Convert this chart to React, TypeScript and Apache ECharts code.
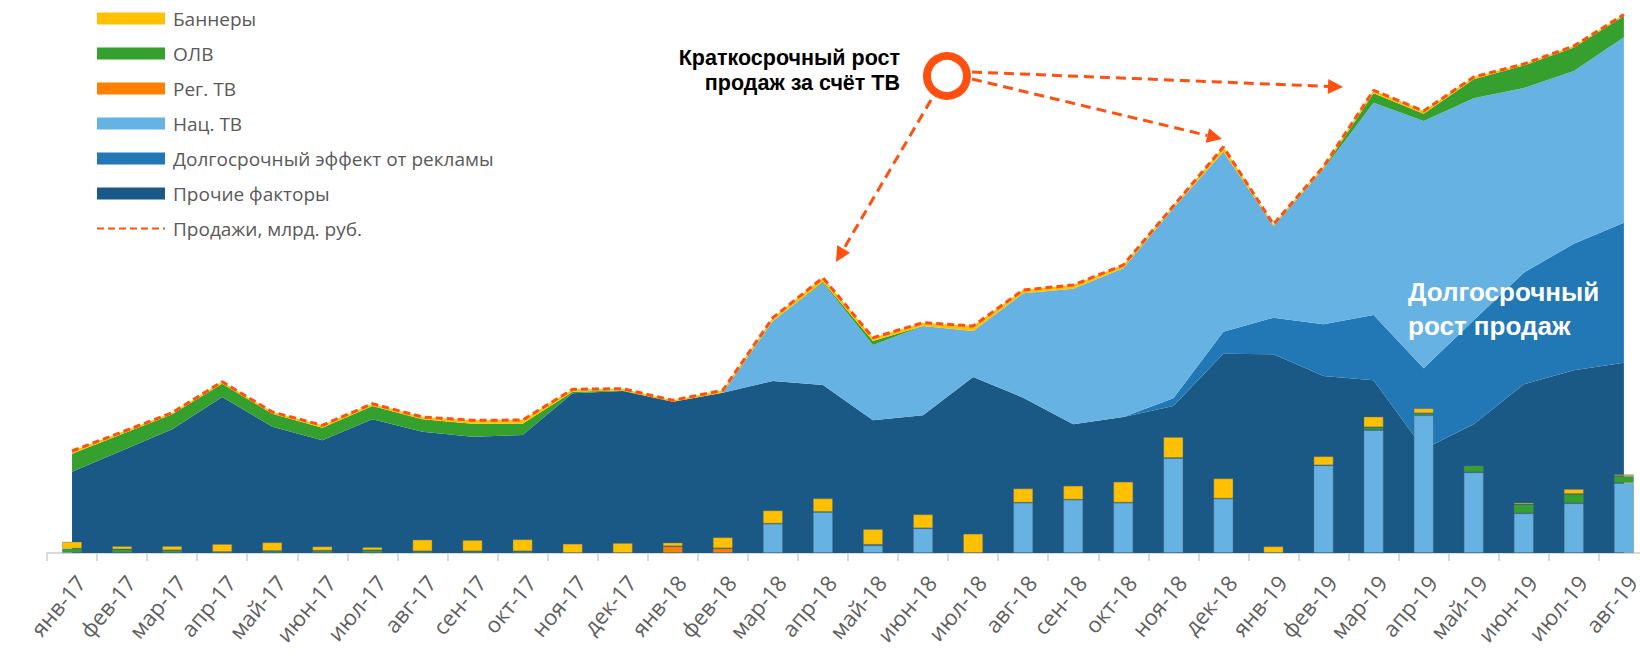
import React, { useEffect, useRef } from "react";
import * as echarts from "echarts";

const categories = [
  "янв-17", "фев-17", "мар-17", "апр-17", "май-17", "июн-17", "июл-17", "авг-17",
  "сен-17", "окт-17", "ноя-17", "дек-17", "янв-18", "фев-18", "мар-18", "апр-18",
  "май-18", "июн-18", "июл-18", "авг-18", "сен-18", "окт-18", "ноя-18", "дек-18",
  "янв-19", "фев-19", "мар-19", "апр-19", "май-19", "июн-19", "июл-19", "авг-19",
];

// stacked area components
const otherFactors = [81.3, 102.4, 123.7, 156, 126.3, 112.7, 133.7, 121.3, 116.3, 118, 159.7, 162, 151.3, 160.3, 172, 168, 132.7, 137.7, 176, 155.3, 128.7, 136, 147, 199.3, 198.7, 177, 172.7, 104, 128.7, 168.7, 182.7, 190.3];
const longTermEffect = [0, 0, 0, 0, 0, 0, 0, 0, 0, 0, 0, 0, 0, 0, 0, 0, 0, 0, 0, 0, 0, 0, 7.7, 22, 36.6, 51.7, 65.3, 80.7, 104, 111.6, 126.6, 140];
const natTvArea = [0, 0, 0, 0, 0, 0, 0, 0, 0, 0, 0, 0, 0, 0, 60, 102.3, 75.3, 89.3, 46, 104.4, 135.6, 148.7, 190, 180, 91.7, 155, 212.3, 247.3, 222, 184.7, 172.7, 185.4];
const regTvArea = [0, 0, 0, 0, 0, 0, 0, 0, 0, 0, 0, 0, 0, 0, 0, 0, 0, 0, 0, 0, 0, 0, 0, 0, 0, 0, 0, 0, 0, 0, 0, 0];
const olvArea = [18, 16.6, 15, 13.3, 13, 12.6, 13.3, 12.4, 13, 11.3, 1.6, 0.5, 0, 0, 0, 1, 4, 0, 0, 0, 0, 0, 0, 0, 0, 0.5, 9.4, 7.3, 19, 22.5, 23.5, 21.3];
const bannersArea = [2.7, 2, 1.6, 2, 1.7, 2.4, 2.3, 2.3, 3.4, 3.7, 2.4, 1.8, 1.4, 2.4, 3.3, 4, 3.3, 3.3, 5, 3.3, 3.7, 3.3, 2.3, 4.7, 1.7, 2.3, 3, 2.7, 2.3, 1.5, 1.5, 1.5];
const sales = [102, 121, 140.3, 171.3, 141, 127.7, 149.3, 136, 132.7, 133, 163.7, 164.3, 152.7, 162.7, 235.3, 275.3, 215.3, 230.3, 227, 263, 268, 288, 347, 406, 328.7, 386.5, 462.7, 442, 476, 489, 507, 538.5];

// stacked bars (short-term media contributions)
const natTvBars = [null, null, null, null, null, null, null, null, null, null, null, null, null, null, 29.3, 41, 7.7, 24.7, null, 50.3, 53.3, 50.3, 95, 54.3, null, 87.7, 123, 137.7, 80.7, 39.7, 49.7, 70];
const regTvBars = [null, null, null, null, null, null, null, null, null, null, null, null, 6.7, 4.7, null, null, null, null, null, null, null, null, null, null, null, null, null, null, null, null, null, null];
const olvBars = [4.3, 3.7, 2.7, 1, 2, 2.3, 2.7, 1.7, 1.7, 1.7, null, null, null, null, null, null, 0.5, null, null, null, null, null, null, null, null, null, 2.7, 2, 6.7, 9, 9.3, 7];
const bannersBars = [7, 3.3, 4.3, 8, 8.7, 4.3, 3.3, 11.7, 11.3, 12, 9.3, 10, 3.7, 11, 13.3, 13.7, 15.7, 14, 19.3, 14.3, 14, 21, 21, 20.3, 6.7, 9, 10.7, 5, null, 1.7, 5, 1.7];

const C_OTHER = "#1A5986";
const C_LONG = "#2178B4";
const C_NAT = "#66B2E3";
const C_REG = "#FF8000";
const C_OLV = "#35A02E";
const C_BAN = "#FFC000";
const C_SALES = "#FF5010";

const FONT = "Open Sans";

function arrow(x1: number, y1: number, tx: number, ty: number) {
  const dx = tx - x1;
  const dy = ty - y1;
  const len = Math.sqrt(dx * dx + dy * dy);
  const ux = dx / len;
  const uy = dy / len;
  const hl = 15;
  const hw = 7.5;
  const bx = tx - ux * hl;
  const by = ty - uy * hl;
  const nx = -uy;
  const ny = ux;
  return [
    {
      type: "line",
      shape: { x1, y1, x2: bx, y2: by },
      style: { stroke: C_SALES, lineWidth: 3, lineDash: [10, 6] },
      z: 100,
    },
    {
      type: "polygon",
      shape: {
        points: [
          [tx, ty],
          [bx + nx * hw, by + ny * hw],
          [bx - nx * hw, by - ny * hw],
        ],
      },
      style: { fill: C_SALES },
      z: 100,
    },
  ];
}

function areaSeries(name: string, data: number[], color: string) {
  return {
    name,
    type: "line",
    stack: "area",
    data,
    symbol: "none",
    showSymbol: false,
    itemStyle: { color },
    lineStyle: { width: 0, color },
    areaStyle: { color, opacity: 1 },
    z: 2,
  };
}

function barSeries(name: string, data: (number | null)[], color: string) {
  return {
    name,
    type: "bar",
    stack: "bars",
    data,
    barWidth: 20,
    itemStyle: { color, borderColor: "rgba(90,110,120,0.5)", borderWidth: 0.8 },
    z: 3,
  };
}

export default function App() {
  const ref = useRef<HTMLDivElement>(null);

  useEffect(() => {
    document.body.style.margin = "0";
    if (!ref.current) return;
    const chart = echarts.init(ref.current, undefined, { renderer: "svg" });

    const option: any = {
      animation: false,
      backgroundColor: "#ffffff",
      grid: {
        left: 47,
        top: 3,
        width: 32 * 50.06,
        bottom: 105,
        containLabel: false,
        outerBoundsMode: "none",
      },
      legend: {
        orient: "vertical",
        left: 91,
        top: 4,
        itemWidth: 68,
        itemHeight: 12,
        itemGap: 16,
        selectedMode: false,
        textStyle: { fontFamily: FONT, fontSize: 19, color: "#595959", padding: [0, 0, 0, 3] },
        data: [
          { name: "Баннеры", icon: "rect" },
          { name: "ОЛВ", icon: "rect" },
          { name: "Рег. ТВ", icon: "rect" },
          { name: "Нац. ТВ", icon: "rect" },
          { name: "Долгосрочный эффект от рекламы", icon: "rect" },
          { name: "Прочие факторы", icon: "rect" },
          {
            name: "Продажи, млрд. руб.",
            itemStyle: { color: "rgba(0,0,0,0)", borderColor: "rgba(0,0,0,0)", borderWidth: 0, opacity: 0 },
          },
        ],
      },
      xAxis: {
        type: "category",
        data: categories,
        boundaryGap: true,
        axisLine: { show: true, lineStyle: { color: "#d9d9d9", width: 2 } },
        axisTick: { show: true, length: 8, lineStyle: { color: "#d9d9d9", width: 2 } },
        axisLabel: {
          rotate: 50,
          interval: 0,
          margin: 18,
          verticalAlign: "top",
          fontFamily: FONT,
          fontSize: 22,
          color: "#5f5f5f",
        },
        splitLine: { show: false },
      },
      yAxis: {
        type: "value",
        min: 0,
        max: 550,
        show: false,
        splitLine: { show: false },
      },
      series: [
        areaSeries("Прочие факторы", otherFactors, C_OTHER),
        areaSeries("Долгосрочный эффект от рекламы", longTermEffect, C_LONG),
        areaSeries("Нац. ТВ", natTvArea, C_NAT),
        areaSeries("Рег. ТВ", regTvArea, C_REG),
        areaSeries("ОЛВ", olvArea, C_OLV),
        areaSeries("Баннеры", bannersArea, C_BAN),
        barSeries("Нац. ТВ", natTvBars, C_NAT),
        barSeries("Рег. ТВ", regTvBars, C_REG),
        barSeries("ОЛВ", olvBars, C_OLV),
        barSeries("Баннеры", bannersBars, C_BAN),
        {
          name: "Продажи, млрд. руб.",
          type: "line",
          data: sales,
          symbol: "none",
          showSymbol: false,
          itemStyle: { color: C_SALES },
          lineStyle: { color: C_SALES, width: 3, type: [7, 4] },
          z: 5,
        },
      ],
      graphic: [
        {
          type: "text",
          x: 900,
          y: 45,
          style: {
            text: "Краткосрочный рост\nпродаж за счёт ТВ",
            fontFamily: "Liberation Sans",
            fontSize: 21.5,
            fontWeight: "bold",
            fill: "#000000",
            textAlign: "right",
            textVerticalAlign: "top",
            lineHeight: 25,
          },
          z: 100,
        },
        {
          type: "circle",
          shape: { cx: 947, cy: 76, r: 20 },
          style: { fill: "rgba(0,0,0,0)", stroke: C_SALES, lineWidth: 8 },
          z: 100,
        },
        ...arrow(931, 100, 836, 262),
        ...arrow(972, 79, 1222, 139),
        ...arrow(972, 72, 1343, 87),
        {
          type: "text",
          x: 1408,
          y: 275,
          style: {
            text: "Долгосрочный\nрост продаж",
            fontFamily: "Liberation Sans",
            fontSize: 26,
            fontWeight: "bold",
            fill: "#ffffff",
            textAlign: "left",
            textVerticalAlign: "top",
            lineHeight: 34,
          },
          z: 100,
        },
      ],
    };

    chart.setOption(option);
    return () => {
      chart.dispose();
    };
  }, []);

  return <div ref={ref} style={{ width: 1640, height: 658 }} />;
}
